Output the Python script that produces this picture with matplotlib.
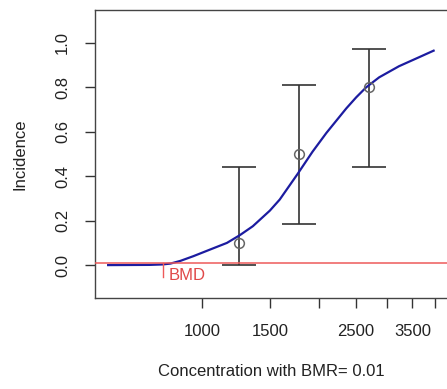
import matplotlib
matplotlib.use("Agg")
import matplotlib.pyplot as plt
import numpy as np

# observed incidence with confidence limits
conc = [1242, 1782, 2700]
incidence = [0.1, 0.5, 0.8]
ci_low = [0.0, 0.184, 0.443]
ci_high = [0.443, 0.81, 0.973]

# fitted curve
fit_conc = [571, 731, 790, 828, 878, 948, 1048, 1159, 1252, 1352, 1496, 1587, 1765,
            1929, 2096, 2359, 2503, 2656, 2870, 3230, 3635, 3970]
fit_inc = [0.0, 0.001, 0.003, 0.007, 0.019, 0.04, 0.07, 0.10, 0.135, 0.175, 0.245, 0.295, 0.41,
           0.51, 0.595, 0.705, 0.755, 0.80, 0.845, 0.895, 0.935, 0.965]

bmr = 0.01
bmd = 792

xticks = [1000, 1500, 2000, 2500, 3000, 3500, 4000]
xticklabels = ["1000", "1500", "", "2500", "", "3500", ""]
yticks = [0.0, 0.2, 0.4, 0.6, 0.8, 1.0]

plt.rcParams['font.family'] = ['Liberation Sans', 'DejaVu Sans']
plt.rcParams['font.size'] = 12

fig = plt.figure(figsize=(4.47, 3.89), dpi=100)
ax = fig.add_axes([95/447, 1 - 298/389, (448 - 95)/447, 288/389])

ax.set_xscale('log')
ax.set_xlim(528, 4325)
ax.set_ylim(-0.148, 1.148)

# courbe ajustee
ax.plot(fit_conc, fit_inc, color='#1c1ca0', lw=1.6, zorder=3, solid_joinstyle='round')

# barres d'erreur + points
err = [np.array(incidence) - np.array(ci_low), np.array(ci_high) - np.array(incidence)]
ax.errorbar(conc, incidence, yerr=err, fmt='none', ecolor='#333333', elinewidth=1.2,
            capsize=12, capthick=1.2, zorder=2)
ax.plot(conc, incidence, 'o', mfc='none', mec='#666666', ms=7, mew=1.1, zorder=4)

# BMR / BMD
ax.axhline(bmr, color='#ee5a5a', lw=1.1, zorder=5)
ax.plot([bmd, bmd], [0.01, -0.055], color='#ee5a5a', lw=1.0, zorder=5)
ax.annotate("BMD", xy=(bmd, -0.045), xytext=(4, 0), textcoords='offset points',
            ha='left', va='center', color='#e04848')

ax.set_xticks(xticks)
ax.set_xticklabels(xticklabels)
ax.xaxis.set_minor_locator(matplotlib.ticker.NullLocator())
ax.set_yticks(yticks)
ax.set_yticklabels(["%.1f" % v for v in yticks], rotation=90, va='center')

ax.tick_params(axis='x', length=7, width=1, color='#333333', pad=12, labelcolor='#222222')
ax.tick_params(axis='y', length=7, width=1, color='#333333', pad=11, labelcolor='#222222')
for s in ax.spines.values():
    s.set_color('#444444')
    s.set_linewidth(1)

ax.set_xlabel("Concentration with BMR= 0.01", color='#222222', labelpad=18)
ax.set_ylabel("Incidence", color='#222222', labelpad=20)

fig.savefig("out.png", dpi=100)
